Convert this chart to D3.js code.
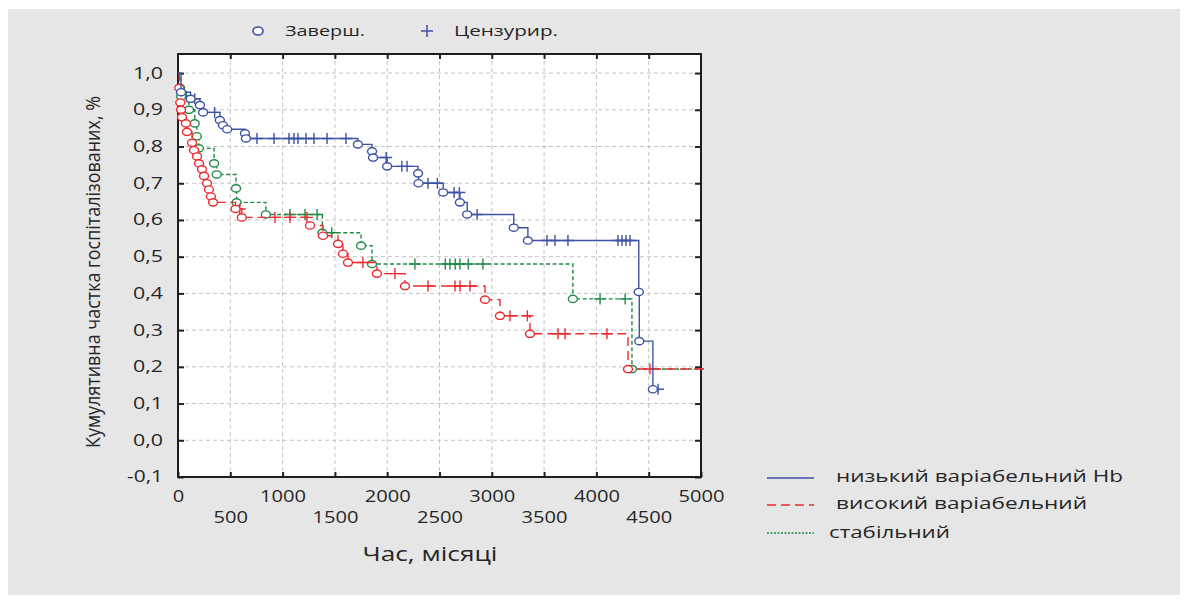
<!DOCTYPE html>
<html>
<head>
<meta charset="utf-8">
<script src="https://cdn.jsdelivr.net/npm/d3@7"></script>
<style>
  body { margin: 0; background: #fff; }
  text { font-family: "Open Sans", sans-serif; fill: #262626; }
</style>
</head>
<body>
<div id="chart"></div>
<script>
// низький варіабельний Hb
var lowEventT = [29, 120, 210, 240, 400, 430, 470, 640, 650, 1720, 1855, 1865, 2000, 2295, 2300, 2535, 2695, 2765, 3210, 3345, 4405, 4410, 4540];
var lowEventS = [0.948, 0.93, 0.913, 0.893, 0.872, 0.858, 0.847, 0.836, 0.822, 0.806, 0.787, 0.77, 0.746, 0.727, 0.70, 0.675, 0.648, 0.615, 0.579, 0.544, 0.404, 0.27, 0.139];
var lowCens = [160, 350, 755, 918, 1061, 1109, 1147, 1224, 1300, 1425, 1606, 1990, 2140, 2190, 2390, 2480, 2640, 2690, 2860, 3528, 3604, 3728, 4206, 4245, 4283, 4321, 4590];

// високий варіабельний
var highEventT = [12, 22, 29, 38, 76, 86, 134, 153, 182, 201, 229, 249, 277, 296, 315, 335, 550, 610, 1262, 1386, 1530, 1577, 1625, 1902, 2170, 2935, 3078, 3365, 4302];
var highEventS = [0.96, 0.92, 0.90, 0.88, 0.863, 0.84, 0.81, 0.79, 0.773, 0.754, 0.738, 0.72, 0.70, 0.683, 0.664, 0.648, 0.63, 0.607, 0.585, 0.557, 0.535, 0.508, 0.484, 0.454, 0.42, 0.383, 0.339, 0.29, 0.194];
var highCens = [590, 927, 1071, 1233, 1768, 2074, 2390, 2648, 2696, 2791, 3174, 3340, 3633, 3700, 4101, 4512];

// стабільний
var stableEventT = [20, 30, 105, 160, 180, 200, 345, 370, 555, 560, 840, 1380, 1750, 1855, 3775, 4340];
var stableEventS = [0.96, 0.937, 0.90, 0.863, 0.828, 0.795, 0.754, 0.724, 0.686, 0.648, 0.615, 0.565, 0.53, 0.48, 0.385, 0.194];
var stableCens = [80, 1070, 1215, 1330, 1470, 2265, 2555, 2600, 2650, 2695, 2775, 2915, 4035, 4275];

var xTicks = [0, 500, 1000, 1500, 2000, 2500, 3000, 3500, 4000, 4500, 5000];
var yTicks = [-0.1, 0, 0.1, 0.2, 0.3, 0.4, 0.5, 0.6, 0.7, 0.8, 0.9, 1.0];

var seriesNames = ["низький варіабельний Hb", "високий варіабельний", "стабільний"];

var series = [
  {name: seriesNames[0], t: lowEventT, s: lowEventS, cens: lowCens, end: 4590, color: "#3d52a5", dash: null},
  {name: seriesNames[1], t: highEventT, s: highEventS, cens: highCens, end: 5030, color: "#ef2a2f", dash: "9,5"},
  {name: seriesNames[2], t: stableEventT, s: stableEventS, cens: stableCens, end: 5030, color: "#1f8b45", dash: "4,2.5"}
];

var width = 1188, height = 602;
var plot = {left: 178, right: 701, top: 54, bottom: 477};

var svg = d3.select("#chart").append("svg")
    .attr("width", width)
    .attr("height", height);

svg.append("rect")
    .attr("x", 8).attr("y", 9)
    .attr("width", 1172).attr("height", 586)
    .attr("fill", "#e6e6e6");

svg.append("rect")
    .attr("x", plot.left).attr("y", plot.top)
    .attr("width", plot.right - plot.left).attr("height", plot.bottom - plot.top)
    .attr("fill", "#fff");

var xScale = d3.scaleLinear().domain([0, 5000]).range([plot.left, plot.right]);
var yScale = d3.scaleLinear().domain([-0.1, 1.052]).range([plot.bottom, plot.top]);

// grid
svg.append("g").selectAll("line")
    .data(xTicks.filter(d => d > 0 && d < 5000))
    .enter().append("line")
    .attr("x1", d => xScale(d)).attr("x2", d => xScale(d))
    .attr("y1", plot.top).attr("y2", plot.bottom)
    .attr("stroke", "#c4c4c4").attr("stroke-dasharray", "4,3");

svg.append("g").selectAll("line")
    .data(yTicks.filter(d => d > -0.1))
    .enter().append("line")
    .attr("x1", plot.left).attr("x2", plot.right)
    .attr("y1", d => yScale(d)).attr("y2", d => yScale(d))
    .attr("stroke", "#c4c4c4").attr("stroke-dasharray", "4,3");

// label width helper: stretched look of the original font
function labelLen(str) {
  var n = 0;
  for (var c of str) n += (c === "," ? 7 : c === "-" ? 6 : 11.5);
  return n;
}
var fmtY = d => d3.format(".1f")(d).replace(".", ",").replace("\u2212", "-");

var yAxis = d3.axisLeft(yScale).tickValues(yTicks).tickFormat(fmtY).tickSize(-6).tickPadding(15);
var gy = svg.append("g").attr("transform", `translate(${plot.left},0)`).call(yAxis);
gy.select(".domain").remove();
gy.selectAll("line").attr("stroke", "#222").attr("stroke-width", 2);
gy.selectAll("text")
    .style("font-family", "'Open Sans', sans-serif")
    .style("font-size", "15.5px")
    .attr("fill", "#262626")
    .attr("textLength", d => labelLen(fmtY(d)))
    .attr("lengthAdjust", "spacingAndGlyphs");

var yAxisR = d3.axisRight(yScale).tickValues(yTicks).tickFormat("").tickSize(-6);
var gyr = svg.append("g").attr("transform", `translate(${plot.right},0)`).call(yAxisR);
gyr.select(".domain").remove();
gyr.selectAll("line").attr("stroke", "#222").attr("stroke-width", 2);

var xAxis = d3.axisBottom(xScale).tickValues(xTicks).tickFormat(d3.format("d")).tickSize(-5);
var gx = svg.append("g").attr("transform", `translate(0,${plot.bottom})`).call(xAxis);
gx.select(".domain").remove();
gx.selectAll("line").attr("stroke", "#222").attr("stroke-width", 2);
gx.selectAll("text")
    .style("font-family", "'Open Sans', sans-serif")
    .style("font-size", "15.5px")
    .attr("fill", "#262626")
    .attr("y", (d, i) => i % 2 ? 35 : 14)
    .attr("textLength", d => labelLen(String(d)))
    .attr("lengthAdjust", "spacingAndGlyphs");

var xAxisT = d3.axisTop(xScale).tickValues(xTicks.filter(d => d > 0 && d < 5000)).tickFormat("").tickSize(-5);
var gxt = svg.append("g").attr("transform", `translate(0,${plot.top})`).call(xAxisT);
gxt.select(".domain").remove();
gxt.selectAll("line").attr("stroke", "#222").attr("stroke-width", 2);

// frame
svg.append("rect")
    .attr("x", plot.left).attr("y", plot.top)
    .attr("width", plot.right - plot.left).attr("height", plot.bottom - plot.top)
    .attr("fill", "none").attr("stroke", "#1e1e1e").attr("stroke-width", 2);

// survival curves
function survAt(sr, t) {
  var s = 1;
  for (var i = 0; i < sr.t.length; i++) if (sr.t[i] <= t) s = sr.s[i];
  return s;
}

var line = d3.line()
    .x(d => xScale(d[0]))
    .y(d => yScale(d[1]))
    .curve(d3.curveStepAfter);

var order = [2, 1, 0];
order.forEach(function(k) {
  var sr = series[k];
  var pts = [[0, 1]].concat(sr.t.map((t, i) => [t, sr.s[i]]));
  pts.push([sr.end, sr.s[sr.s.length - 1]]);

  var g = svg.append("g");
  g.append("path")
      .attr("d", line(pts))
      .attr("fill", "none")
      .attr("stroke", sr.color)
      .attr("stroke-width", 1.4)
      .attr("stroke-dasharray", sr.dash);

  g.selectAll(".cens")
      .data(sr.cens)
      .enter().append("path")
      .attr("class", "cens")
      .attr("transform", d => `translate(${xScale(d)},${yScale(survAt(sr, d))})`)
      .attr("d", "M-6,0H6M0,-5.5V5.5")
      .attr("stroke", sr.color)
      .attr("stroke-width", 1.4);

  g.selectAll(".evt")
      .data(sr.t.map((t, i) => [t, sr.s[i]]))
      .enter().append("ellipse")
      .attr("class", "evt")
      .attr("cx", d => xScale(d[0]))
      .attr("cy", d => yScale(d[1]))
      .attr("rx", 4.5).attr("ry", 3.6)
      .attr("fill", "#fff")
      .attr("stroke", sr.color)
      .attr("stroke-width", 1.4);
});

// axis titles
svg.append("text")
    .attr("transform", "translate(100,272) rotate(-90)")
    .attr("text-anchor", "middle")
    .style("font-size", "20px")
    .attr("textLength", 352)
    .attr("lengthAdjust", "spacingAndGlyphs")
    .text("Кумулятивна частка госпіталізованих, %");

svg.append("text")
    .attr("x", 430).attr("y", 561)
    .attr("text-anchor", "middle")
    .style("font-size", "20px")
    .attr("textLength", 135)
    .attr("lengthAdjust", "spacingAndGlyphs")
    .text("Час, місяці");

// top legend
svg.append("ellipse")
    .attr("cx", 258).attr("cy", 31).attr("rx", 5).attr("ry", 4)
    .attr("fill", "#fff").attr("stroke", "#3d52a5").attr("stroke-width", 1.6);
svg.append("text")
    .attr("x", 285).attr("y", 36)
    .style("font-size", "15px")
    .attr("textLength", 80).attr("lengthAdjust", "spacingAndGlyphs")
    .text("Заверш.");
svg.append("path")
    .attr("transform", "translate(427,31)")
    .attr("d", "M-6,0H6M0,-6V6")
    .attr("stroke", "#3d52a5").attr("stroke-width", 1.5);
svg.append("text")
    .attr("x", 454).attr("y", 36)
    .style("font-size", "15px")
    .attr("textLength", 104).attr("lengthAdjust", "spacingAndGlyphs")
    .text("Цензурир.");

// bottom legend
var legY = [478, 505, 533];
var legTextX = [836, 836, 829];
var legTextY = [482, 509, 538];
var legTextLen = [287, 251, 121];
var legDash = [null, "9,5", "2,1.5"];
series.forEach(function(sr, i) {
  svg.append("line")
      .attr("x1", 767).attr("x2", 814)
      .attr("y1", legY[i]).attr("y2", legY[i])
      .attr("stroke", sr.color).attr("stroke-width", 1.4)
      .attr("stroke-dasharray", legDash[i]);
  svg.append("text")
      .attr("x", legTextX[i]).attr("y", legTextY[i])
      .style("font-size", "17px")
      .attr("textLength", legTextLen[i]).attr("lengthAdjust", "spacingAndGlyphs")
      .text(sr.name);
});
</script>
</body>
</html>
